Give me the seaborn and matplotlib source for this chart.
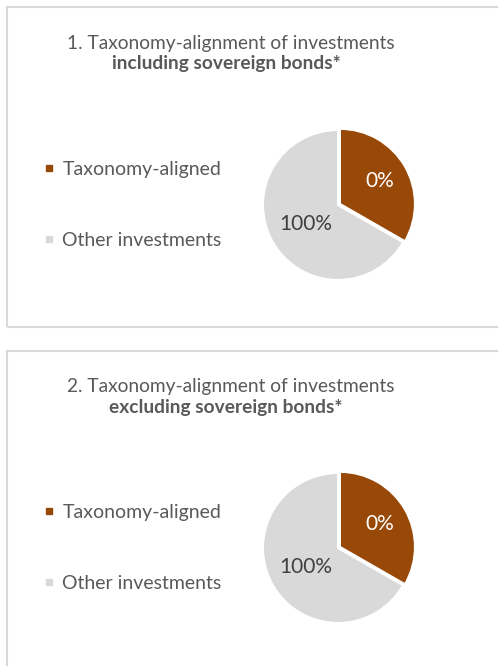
import matplotlib
matplotlib.use("Agg")
import matplotlib.pyplot as plt
from matplotlib.patches import Rectangle
from matplotlib.lines import Line2D
import numpy as np
import seaborn as sns

sns.set_style("white")
plt.rcParams['font.family'] = ['Lato', 'DejaVu Sans']

# data
categories = ['Taxonomy-aligned', 'Other investments']
slice_sizes = [33.3, 66.7]          # drawn proportions of the wedges
slice_labels = ['0%', '100%']        # printed labels
titles = [('1. Taxonomy-alignment of investments', 'including sovereign bonds*'),
          ('2. Taxonomy-alignment of investments', 'excluding sovereign bonds*')]
colors = ['#984807', '#d9d9d9']
label_colors = ['white', '#404040']
label_dist = [0.62, 0.5]

W, H = 498, 666
fig = plt.figure(figsize=(W / 100, H / 100), dpi=100)


def fx(px):
    return px / W


def fy(py):
    return 1 - py / H


def draw_panel(fig, top, bottom, pie_cy, title):
    # grey frame of the panel
    rect = Rectangle((fx(7), fy(bottom)), fx(520) - fx(7), fy(top) - fy(bottom),
                     transform=fig.transFigure, fill=False, edgecolor='#d9d9d9', lw=1.5)
    fig.patches.append(rect)

    fig.text(fx(231), fy(top + 36), title[0], ha='center', va='center',
             fontsize=13.8, color='#595959')
    fig.text(fx(226), fy(top + 56), title[1], ha='center', va='center',
             fontsize=13.8, color='#595959', fontweight='bold')

    # pie
    cx = 338
    half = 80
    ax = fig.add_axes([fx(cx - half), fy(pie_cy + half), fx(2 * half), 2 * half / H])
    wedges, _ = ax.pie(slice_sizes, colors=colors, startangle=90, counterclock=False,
                       explode=[0.03, 0], radius=1,
                       wedgeprops=dict(edgecolor='white', linewidth=1.5))
    for w, lab, c, d in zip(wedges, slice_labels, label_colors, label_dist):
        mid = np.deg2rad((w.theta1 + w.theta2) / 2)
        x = w.center[0] + d * np.cos(mid)
        y = w.center[1] + d * np.sin(mid)
        ax.text(x, y, lab, ha='center', va='center', fontsize=15, color=c)
    ax.set_xlim(-half / 75, half / 75)
    ax.set_ylim(-half / 75, half / 75)
    ax.set_aspect('equal')
    ax.axis('off')

    handles = [Line2D([], [], marker='s', ls='', markersize=4.5, color=c) for c in colors]
    fig.legend(handles, categories, loc='center left',
               bbox_to_anchor=(fx(41), fy(pie_cy)), frameon=False,
               fontsize=14, labelcolor='#595959', labelspacing=2.75,
               handletextpad=0.3, handlelength=0.8, borderpad=0, borderaxespad=0)


draw_panel(fig, 7, 327, 205, titles[0])
draw_panel(fig, 351, 700, 548, titles[1])

fig.savefig('out.png', dpi=100)
